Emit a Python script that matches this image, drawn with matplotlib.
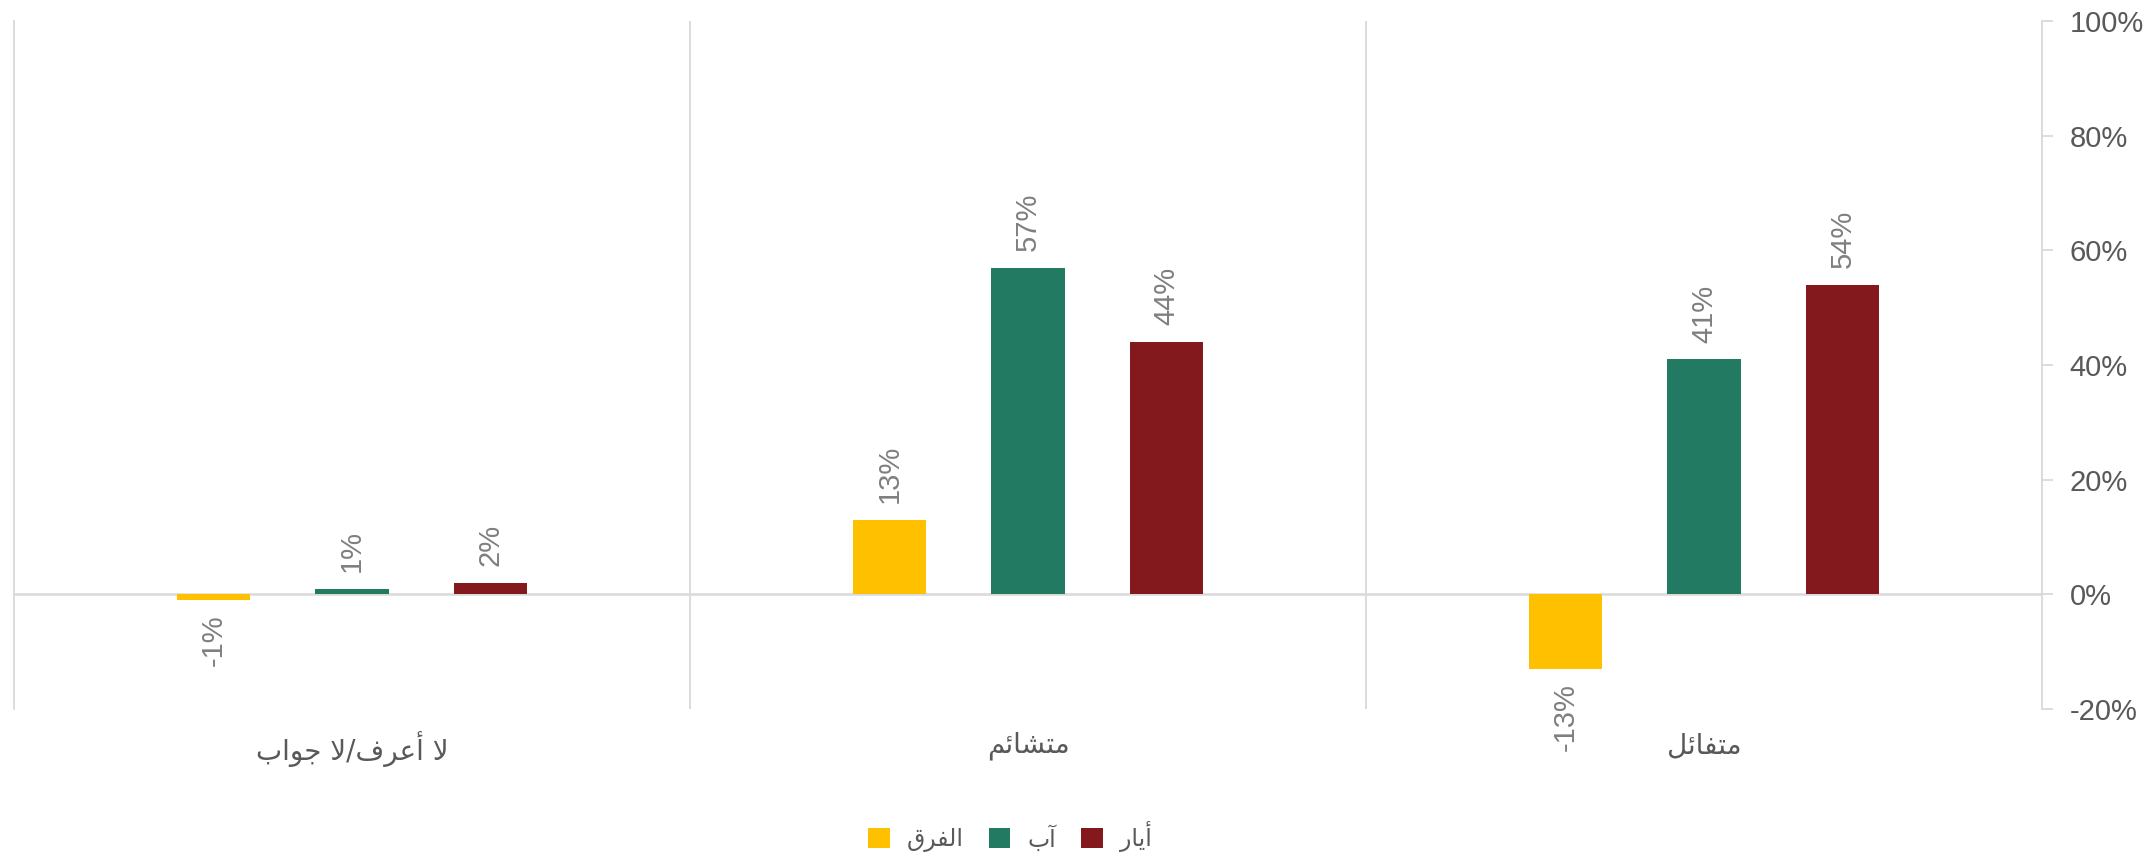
import matplotlib
matplotlib.use("Agg")
import matplotlib.pyplot as plt
import numpy as np
from matplotlib.ticker import FuncFormatter

# data
categories = ["متفائل", "متشائم", "لا أعرف/لا جواب"]   # logical order (right to left on chart)
series_names = ["الفرق", "آب", "أيار"]
diff_vals = [-13, 13, -1]
aug_vals = [41, 57, 1]
may_vals = [54, 44, 2]
colors = ["#FFC000", "#237A63", "#84191D"]

# minimal arabic shaping (matplotlib has no bidi / joining)
FORMS = {
    "ا": (0xFE8D, 0xFE8E, None, None),
    "أ": (0xFE83, 0xFE84, None, None),
    "آ": (0xFE81, 0xFE82, None, None),
    "ر": (0xFEAD, 0xFEAE, None, None),
    "و": (0xFEED, 0xFEEE, None, None),
    "ب": (0xFE8F, 0xFE90, 0xFE91, 0xFE92),
    "ت": (0xFE95, 0xFE96, 0xFE97, 0xFE98),
    "ج": (0xFE9D, 0xFE9E, 0xFE9F, 0xFEA0),
    "ش": (0xFEB5, 0xFEB6, 0xFEB7, 0xFEB8),
    "ع": (0xFEC9, 0xFECA, 0xFECB, 0xFECC),
    "ف": (0xFED1, 0xFED2, 0xFED3, 0xFED4),
    "ق": (0xFED5, 0xFED6, 0xFED7, 0xFED8),
    "ل": (0xFEDD, 0xFEDE, 0xFEDF, 0xFEE0),
    "م": (0xFEE1, 0xFEE2, 0xFEE3, 0xFEE4),
    "ي": (0xFEF1, 0xFEF2, 0xFEF3, 0xFEF4),
    "ئ": (0xFE89, 0xFE8A, 0xFE8B, 0xFE8C),
    "لا": (0xFEFB, 0xFEFC, None, None),
    "لأ": (0xFEF7, 0xFEF8, None, None),
    "لآ": (0xFEF5, 0xFEF6, None, None),
}


def shape(s):
    toks = []
    i = 0
    while i < len(s):
        if s[i] == "ل" and i + 1 < len(s) and s[i + 1] in "اأآ":
            toks.append(s[i:i + 2])
            i += 2
        else:
            toks.append(s[i])
            i += 1
    out = []
    for k, c in enumerate(toks):
        if c not in FORMS:
            out.append(c)
            continue
        f = FORMS[c]
        prev = toks[k - 1] if k > 0 else None
        nxt = toks[k + 1] if k + 1 < len(toks) else None
        a = prev in FORMS and FORMS[prev][2] is not None
        b = f[2] is not None and nxt in FORMS
        if a and b:
            cp = f[3]
        elif a:
            cp = f[1]
        elif b:
            cp = f[2]
        else:
            cp = f[0]
        out.append(chr(cp))
    return "".join(reversed(out))


plt.rcParams["font.family"] = ["Liberation Sans", "DejaVu Sans"]

fig = plt.figure(figsize=(21.5, 8.59), dpi=100)
ax = fig.add_axes([0.0065, 0.1746, 0.9433, 0.801])

# chart is right-to-left: first category on the right
x = np.arange(len(categories))[::-1]
w = 0.109
step = 0.205
grid_c = "#D9D9D9"

all_vals = [diff_vals, aug_vals, may_vals]
for j, vals in enumerate(all_vals):
    v = np.array(vals) / 100.0
    bars = ax.bar(x + (j - 1) * step, v, width=w, color=colors[j],
                  label=shape(series_names[j]), zorder=3)
    for b, val in zip(bars, vals):
        cx = b.get_x() + b.get_width() / 2
        if val >= 0:
            ax.annotate(f"{val}%", (cx, val / 100.0), xytext=(0, 12),
                        textcoords="offset points", rotation=90,
                        ha="center", va="bottom", fontsize=21, color="#7F7F7F")
        else:
            ax.annotate(f"{val}%", (cx, val / 100.0), xytext=(0, -10),
                        textcoords="offset points", rotation=90,
                        ha="center", va="top", fontsize=21, color="#7F7F7F")

ax.set_xlim(-0.5, 2.5)
ax.set_ylim(-0.2, 1.0)

ax.axhline(0, color=grid_c, lw=1.8, zorder=2, xmax=1.0)
for sep in [0.5, 1.5]:
    ax.axvline(sep, color=grid_c, lw=1.3, zorder=1)

for s in ["top", "bottom"]:
    ax.spines[s].set_visible(False)
ax.spines["left"].set_color(grid_c)
ax.spines["left"].set_linewidth(1.3)
ax.spines["right"].set_color(grid_c)
ax.spines["right"].set_linewidth(1.3)

ax.yaxis.tick_right()
ax.set_yticks(np.arange(-0.2, 1.01, 0.2))
ax.yaxis.set_major_formatter(FuncFormatter(lambda v, p: f"{v * 100:.0f}%"))
ax.tick_params(axis="y", length=8, width=1.3, color=grid_c, pad=12,
               labelsize=21, labelcolor="#595959")

ax.set_xticks(x)
ax.set_xticklabels([shape(c) for c in categories], fontsize=20,
                   color="#595959", family=["DejaVu Sans"])
ax.tick_params(axis="x", length=0, pad=16)

leg = ax.legend(loc="center", bbox_to_anchor=(0.491, -0.186), ncol=3,
                frameon=False, handlelength=0.93, handleheight=0.93,
                handletextpad=0.72, columnspacing=1.06, borderpad=0.2,
                prop={"family": ["DejaVu Sans"], "size": 17})
for t in leg.get_texts():
    t.set_color("#595959")

fig.savefig("out.png", dpi=100, facecolor="white")
